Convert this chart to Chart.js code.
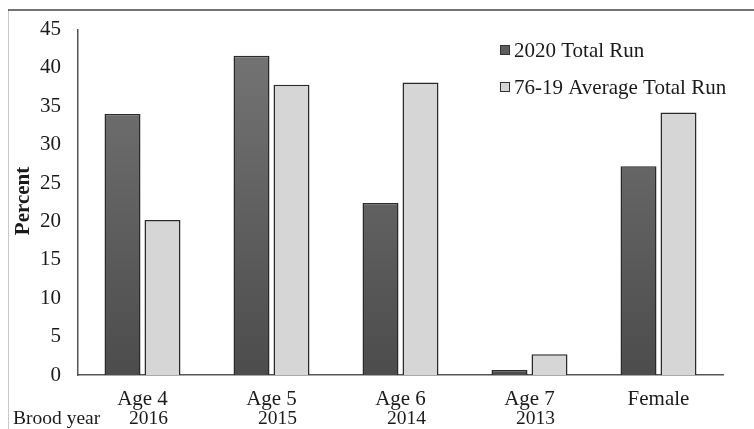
<!DOCTYPE html>
<html>
<head>
<meta charset="utf-8">
<script src="https://cdn.jsdelivr.net/npm/chart.js@4/dist/chart.umd.min.js"></script>
<style>
  html, body { margin: 0; padding: 0; background: #fff; }
  #wrap { width: 754px; height: 429px; position: relative; }
</style>
</head>
<body>
<div id="wrap"><canvas id="chart"></canvas></div>
<script>
// data
var categories = ["Age 4", "Age 5", "Age 6", "Age 7", "Female"];
var broodYears = ["2016", "2015", "2014", "2013", ""];
var run2020 = [34.0, 41.6, 22.4, 0.65, 27.2];
var runAvg = [20.2, 37.8, 38.1, 2.7, 34.2];
var seriesNames = ["2020 Total Run", "76-19 Average Total Run"];

var serif = "'Liberation Serif', 'Times New Roman', serif";

function darkFill(ctx) {
    var area = ctx.chart.chartArea;
    if (!area) return "#606060";
    var g = ctx.chart.ctx.createLinearGradient(0, area.top, 0, area.bottom);
    g.addColorStop(0, "#767676");
    g.addColorStop(1, "#4c4c4c");
    return g;
}

// frame, legend, axis title and brood year row
var extras = {
    id: 'extras',
    afterDraw: function (chart) {
        var c = chart.ctx;
        var x = chart.scales.x;
        c.save();
        // frame lines
        c.strokeStyle = "#c8c8c8";
        c.lineWidth = 1;
        c.beginPath();
        c.moveTo(8.5, 10);
        c.lineTo(8.5, 429);
        c.stroke();
        c.strokeStyle = "#444";
        c.lineWidth = 1.5;
        c.beginPath();
        c.moveTo(8, 10);
        c.lineTo(754, 10);
        c.stroke();

        // legend
        var fills = ["#5e5e5e", "#d6d6d6"];
        var ys = [50, 87];
        c.font = "21px " + serif;
        c.textBaseline = "middle";
        c.textAlign = "left";
        for (var i = 0; i < seriesNames.length; i++) {
            c.fillStyle = fills[i];
            c.fillRect(500, ys[i] - 5, 10, 10);
            c.strokeStyle = "#333";
            c.lineWidth = 1;
            c.strokeRect(500.5, ys[i] - 4.5, 9, 9);
            c.fillStyle = "#1a1a1a";
            c.fillText(seriesNames[i], 514, ys[i] + 1);
        }

        // y title
        c.save();
        c.translate(24, 201);
        c.rotate(-Math.PI / 2);
        c.font = "bold 21px " + serif;
        c.textAlign = "center";
        c.textBaseline = "middle";
        c.fillStyle = "#1a1a1a";
        c.fillText("Percent", 0, 0);
        c.restore();

        // brood year row
        c.font = "19.5px " + serif;
        c.fillStyle = "#1a1a1a";
        c.textAlign = "left";
        c.textBaseline = "alphabetic";
        c.fillText("Brood year", 13, 424);
        c.textAlign = "center";
        for (var j = 0; j < broodYears.length; j++) {
            c.fillText(broodYears[j], x.getPixelForValue(j) + 6, 424);
        }
        c.restore();
    }
};

new Chart(document.getElementById("chart").getContext("2d"), {
    type: 'bar',
    data: {
        labels: categories,
        datasets: [{
            label: seriesNames[0],
            data: run2020,
            backgroundColor: darkFill,
            borderColor: "#2a2a2a",
            borderWidth: 1.5,
            barPercentage: 0.9,
            categoryPercentage: 0.62
        }, {
            label: seriesNames[1],
            data: runAvg,
            backgroundColor: "#d6d6d6",
            borderColor: "#2a2a2a",
            borderWidth: 1.5,
            barPercentage: 0.9,
            categoryPercentage: 0.62
        }]
    },
    options: {
        responsive: true,
        maintainAspectRatio: false,
        animation: false,
        layout: { padding: { left: 0, right: 31, top: 29, bottom: 0 } },
        plugins: {
            legend: { display: false },
            tooltip: { enabled: false }
        },
        scales: {
            x: {
                grid: { display: false, drawTicks: false },
                border: { color: "#555", width: 1.5 },
                ticks: { font: { family: serif, size: 21 }, color: "#1a1a1a", padding: 12 },
                afterFit: function (s) { s.height = 54; }
            },
            y: {
                min: 0,
                max: 45,
                grid: { display: false, drawTicks: false },
                border: { color: "#555", width: 1.5 },
                ticks: { stepSize: 5, font: { family: serif, size: 21 }, color: "#1a1a1a", padding: 17 },
                afterFit: function (s) { s.width = 78; }
            }
        }
    },
    plugins: [extras]
});
</script>
</body>
</html>
